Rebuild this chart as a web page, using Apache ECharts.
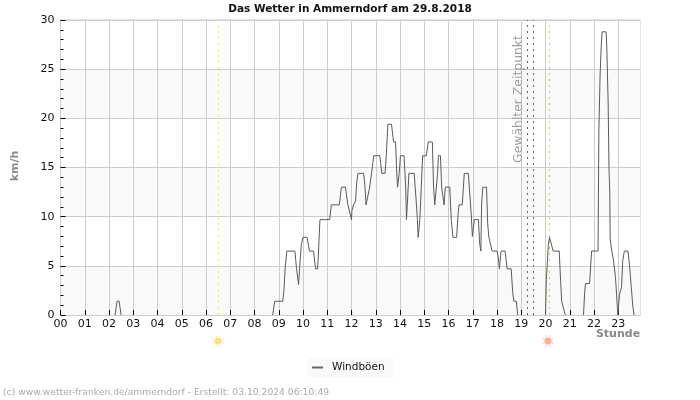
<!DOCTYPE html>
<html><head><meta charset="utf-8">
<script src="https://cdn.jsdelivr.net/npm/echarts@6/dist/echarts.min.js"></script>
<style>html,body{margin:0;padding:0;background:#fff}#c{width:700px;height:400px}</style>
</head><body><div id="c"></div>
<script>
const hourLabels = ['00','01','02','03','04','05','06','07','08','09','10','11','12','13','14','15','16','17','18','19','20','21','22','23'];
const minutes = [135,140,145,150,151,
 525,530,550,553,556,558,560,580,584,589,593,596,600,610,616,626,631,636,638,640,642,666,670,690,695,705,711,715,720,721,725,730,733,736,750,753,756,760,765,769,773,775,790,795,803,806,810,819,824,829,832,834,838,841,850,854,856,858,862,875,880,883,885,889,892,896,905,910,920,923,926,930,933,935,940,943,949,952,955,963,967,971,980,984,986,994,999,1009,1013,1016,1019,1024,1034,1037,1040,1042,1045,1054,1057,1060,1063,1068,1080,1083,1086,1090,1100,1105,1115,1119,1122,1128,1131,1132,
 1200,1202,1205,1207,1210,1214,1219,1234,1236,1240,1244,1249,1250,
 1294,1297,1299,1309,1314,1330,1332,1335,1338,1340,1350,1352,1355,1357,1359,1360,1364,1368,1373,1379,1383,1388,1391,1395,1404,1408,1412,1416,1419];
const gusts = [0,1.4,1.4,0,null,
 0,1.4,1.4,2.6,4.9,5.6,6.5,6.5,4.7,3.1,5.6,7.2,7.9,7.9,6.5,6.5,4.7,4.7,6,8,9.7,9.7,11.2,11.2,13,13,11.2,11,9.7,10.6,11.2,11.6,13.5,14.4,14.4,13.2,11.2,11.2,13,13,15.5,16.2,16.2,14.4,14.4,16.2,19.4,19.4,17.6,17.6,14.4,13,14.4,16.2,16.2,13,9.7,11.2,14.4,14.4,11.6,9.7,7.9,9.7,12.4,16.2,16.2,17.6,17.6,13,11.2,11.2,14.4,16.2,16.2,13,11.2,13,13,13,9.6,7.9,7.9,10.4,11.2,11.2,14.4,14.4,12.1,10.4,8,9.7,9.7,7.3,6.5,11.4,13,13,9.2,7.9,7.9,6.5,6.5,5.9,4.7,6.5,6.5,4.7,4.7,2.2,1.4,1.4,0,null,
 0,3.6,5.6,7.2,7.9,7.9,6.5,6.5,4.6,1.4,1.4,0,null,
 0,2.4,3.2,3.2,6.5,6.5,18.7,24.4,27.4,28.8,28.8,26.7,21.5,15,12.4,7.7,6.5,5.6,3.9,0,2.1,2.8,5.5,6.5,6.5,5,2.9,0.9,0];
const refLines = [
 {name:'Sonnenaufgang', minute:390.9, color:'#f4f000'},
 {name:'Zeitpunkt A', minute:1155.4, color:'#666666'},
 {name:'Zeitpunkt B', minute:1170.3, color:'#666666'},
 {name:'Sonnenuntergang', minute:1209.9, color:'#f0b848'}
];
const titleText = 'Das Wetter in Ammerndorf am 29.8.2018';
const seriesName = 'Windböen';
const footer = '(c) www.wetter-franken.de/ammerndorf - Erstellt: 03.10.2024 06:10:49';
const markerText = 'Gewählter Zeitpunkt';

function sun(cx, cy, core, ray) {
  const kids = [];
  for (let i = 0; i < 8; i++) {
    const a = i * Math.PI / 4 + Math.PI / 8;
    kids.push({type:'line', shape:{x1:cx+3.5*Math.cos(a), y1:cy+3.5*Math.sin(a), x2:cx+6.5*Math.cos(a), y2:cy+6.5*Math.sin(a)}, style:{stroke:ray, lineWidth:1.2}, silent:true});
  }
  kids.push({type:'circle', shape:{cx:cx, cy:cy, r:3.5}, style:{fill:core}, silent:true});
  return {type:'group', children:kids};
}

const FF = '"DejaVu Sans"';
const chart = echarts.init(document.getElementById('c'), null, {renderer:'canvas'});
chart.setOption({
  animation:false,
  backgroundColor:'#ffffff',
  textStyle:{fontFamily:FF},
  title:{text:titleText, left:345, top:-1, textAlign:'center', textStyle:{fontFamily:FF, fontSize:10.5, fontWeight:'bold', color:'#111'}},
  legend:{data:[{name:seriesName, icon:'rect'}], left:307, top:358, backgroundColor:'#f9f9f9', borderRadius:0, padding:[4,8,4,5], itemWidth:11, itemHeight:2, itemGap:9, textStyle:{fontFamily:FF, fontSize:10.5, color:'#111', padding:[0,0,0,4]}},
  grid:{left:60.5, right:59.5, top:20, bottom:85, show:true, borderColor:'#cccccc', borderWidth:1, backgroundColor:'transparent'},
  xAxis:{type:'value', min:0, max:1435,
    axisLine:{show:true, lineStyle:{color:'#cccccc'}},
    axisTick:{show:true, inside:true, length:5, lineStyle:{color:'#000'}, customValues:hourLabels.map((_, i)=>i*60)},
    axisLabel:{fontFamily:FF, fontSize:11, color:'#111', margin:4, customValues:hourLabels.map((_, i)=>i*60), formatter:v=>hourLabels[v/60]},
    splitLine:{show:true, lineStyle:{color:'#cccccc', width:1}}
  },
  yAxis:{type:'value', min:0, max:30, interval:5,
    axisLine:{show:true, lineStyle:{color:'#cccccc'}},
    axisTick:{show:true, inside:true, length:5, lineStyle:{color:'#000'}},
    minorTick:{show:true, splitNumber:5, length:3, lineStyle:{color:'#000'}},
    axisLabel:{fontFamily:FF, fontSize:11, color:'#111', margin:6},
    splitLine:{show:true, lineStyle:{color:'#cccccc', width:1}},
    splitArea:{show:true, areaStyle:{color:['#f9f9f9','#ffffff']}}
  },
  series:[{
    name:seriesName, type:'line', showSymbol:false, connectNulls:false, clip:true, z:5,
    data:minutes.map((m,i)=>[m,gusts[i]]),
    lineStyle:{color:'#5a5a5a', width:1},
    itemStyle:{color:'#666666'},
    emphasis:{disabled:true},
    markLine:{silent:true, symbol:'none', label:{show:false}, animation:false, precision:3,
      data:refLines.map(r=>({xAxis:r.minute, lineStyle:{color:r.color, type:[2,4], width:1, opacity:1}}))}
  }],
  graphic:{elements:[
    {type:'text', x:15, y:166, rotation:Math.PI/2, z:100, style:{text:'km/h', fontFamily:FF, fontSize:11, fontWeight:'bold', fill:'#888', align:'center', verticalAlign:'middle'}, silent:true},
    {type:'text', x:618, y:334, z:100, style:{text:'Stunde', fontFamily:FF, fontSize:11, fontWeight:'bold', fill:'#888', align:'center', verticalAlign:'middle'}, silent:true},
    {type:'text', x:519, y:99, rotation:Math.PI/2, z:100, style:{text:markerText, fontFamily:FF, fontSize:12.4, fontWeight:'normal', fill:'#a0a0a0', align:'center', verticalAlign:'middle'}, silent:true},
    {type:'text', x:3, y:393, z:100, style:{text:footer, fontFamily:FF, fontSize:9.2, fill:'#aaa', align:'left', verticalAlign:'middle'}, silent:true},
    sun(218, 341, '#fbe08a', '#fdeeb8'),
    sun(548, 341, '#fdb09a', '#fdd4c8')
  ]}
});
</script></body></html>
